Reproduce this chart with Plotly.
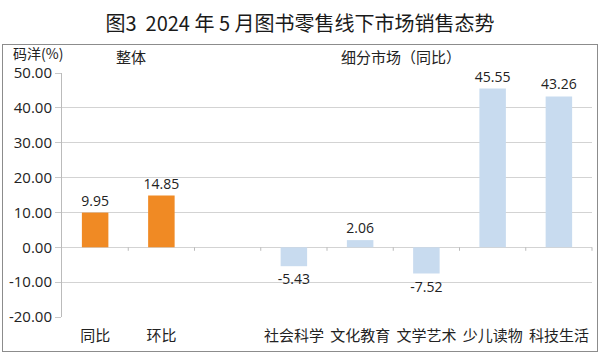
import plotly.graph_objects as go

# ---- data ----
categories = ["同比", "环比", " ", "社会科学", "文化教育", "文学艺术", "少儿读物", "科技生活"]
overall_cats = ["同比", "环比"]
overall_vals = [9.95, 14.85]
segment_cats = ["社会科学", "文化教育", "文学艺术", "少儿读物", "科技生活"]
segment_vals = [-5.43, 2.06, -7.52, 45.55, 43.26]
y_ticks = [50, 40, 30, 20, 10, 0, -10, -20]

title_text = "图3  2024 年 5 月图书零售线下市场销售态势"
FONT = "Open Sans, Noto Sans CJK SC, sans-serif"
CJK = "Noto Sans CJK SC, sans-serif"

fig = go.Figure()
fig.add_trace(go.Bar(
    x=overall_cats, y=overall_vals, width=0.4,
    marker=dict(color="#F08A24", line=dict(width=0)),
    texttemplate="%{y:.2f}", textposition="outside", constraintext="none",
    textfont=dict(family=FONT, size=14, color="#222222"),
    cliponaxis=False, showlegend=False,
))
fig.add_trace(go.Bar(
    x=segment_cats, y=segment_vals, width=0.4,
    marker=dict(color="#C8DBEF", line=dict(width=0)),
    texttemplate="%{y:.2f}", textposition="outside", constraintext="none",
    textfont=dict(family=FONT, size=14, color="#222222"),
    cliponaxis=False, showlegend=False,
))

ymin, ymax = -20, 50
fig.update_layout(
    width=600, height=354,
    margin=dict(l=62, r=8, t=73, b=37),
    paper_bgcolor="white", plot_bgcolor="white",
    barmode="overlay",
    font=dict(family=FONT, size=14, color="#222222"),
    title=dict(text=title_text, x=0.5, xanchor="center", y=1 - 23.5 / 354,
               yanchor="middle", yref="container",
               font=dict(family=CJK, size=20, color="#1a1a1a")),
    xaxis=dict(type="category", categoryorder="array", categoryarray=categories,
               range=[-0.5, len(categories) - 0.5],
               showgrid=False, showline=False, ticks="",
               ticklabelstandoff=8,
               tickfont=dict(family=CJK, size=15, color="#222222"),
               zeroline=False),
    yaxis=dict(range=[ymin, ymax], tickvals=y_ticks,
               ticktext=[f"{v:.2f}" for v in y_ticks],
               showgrid=True, gridcolor="#D3D3D3", gridwidth=1,
               showline=True, linecolor="#BBBBBB", linewidth=1,
               ticks="outside", ticklen=6, tickcolor="#C8C8C8",
               zeroline=False,
               tickfont=dict(family=FONT, size=15, color="#222222")),
)

# outer frame (bordered, transparent annotation box)
fig.add_annotation(text=".", xref="paper", yref="paper",
                   x=(300 - 62) / 530, y=(317 - 197.5) / 244,
                   xanchor="center", yanchor="middle", showarrow=False,
                   width=594, height=306, borderpad=0,
                   bgcolor="rgba(0,0,0,0)",
                   font=dict(color="rgba(0,0,0,0)", size=10),
                   bordercolor="#8C8C8C", borderwidth=1)

# category-boundary tick marks on the zero line (arrow-only annotations)
for i in range(1, len(categories) + 1):
    fig.add_annotation(text="", xref="x", yref="y", x=i - 0.5, y=0,
                       showarrow=True, arrowhead=0, arrowwidth=1,
                       arrowcolor="#BBBBBB", ax=0, ay=5, standoff=0,
                       startstandoff=0)

def ann(text, px, py, anchor="center", size=15):
    fig.add_annotation(text=text, xref="paper", yref="paper",
                       x=(px - 62) / 530, y=(317 - py) / 244,
                       xanchor=anchor, yanchor="middle", showarrow=False,
                       font=dict(family=CJK, size=size, color="#222222"))

ann("码洋(%)", 11, 53, anchor="left", size=14)
ann("整体", 131, 57)
ann("细分市场（同比）", 401, 57)

fig.write_html("out.html")
